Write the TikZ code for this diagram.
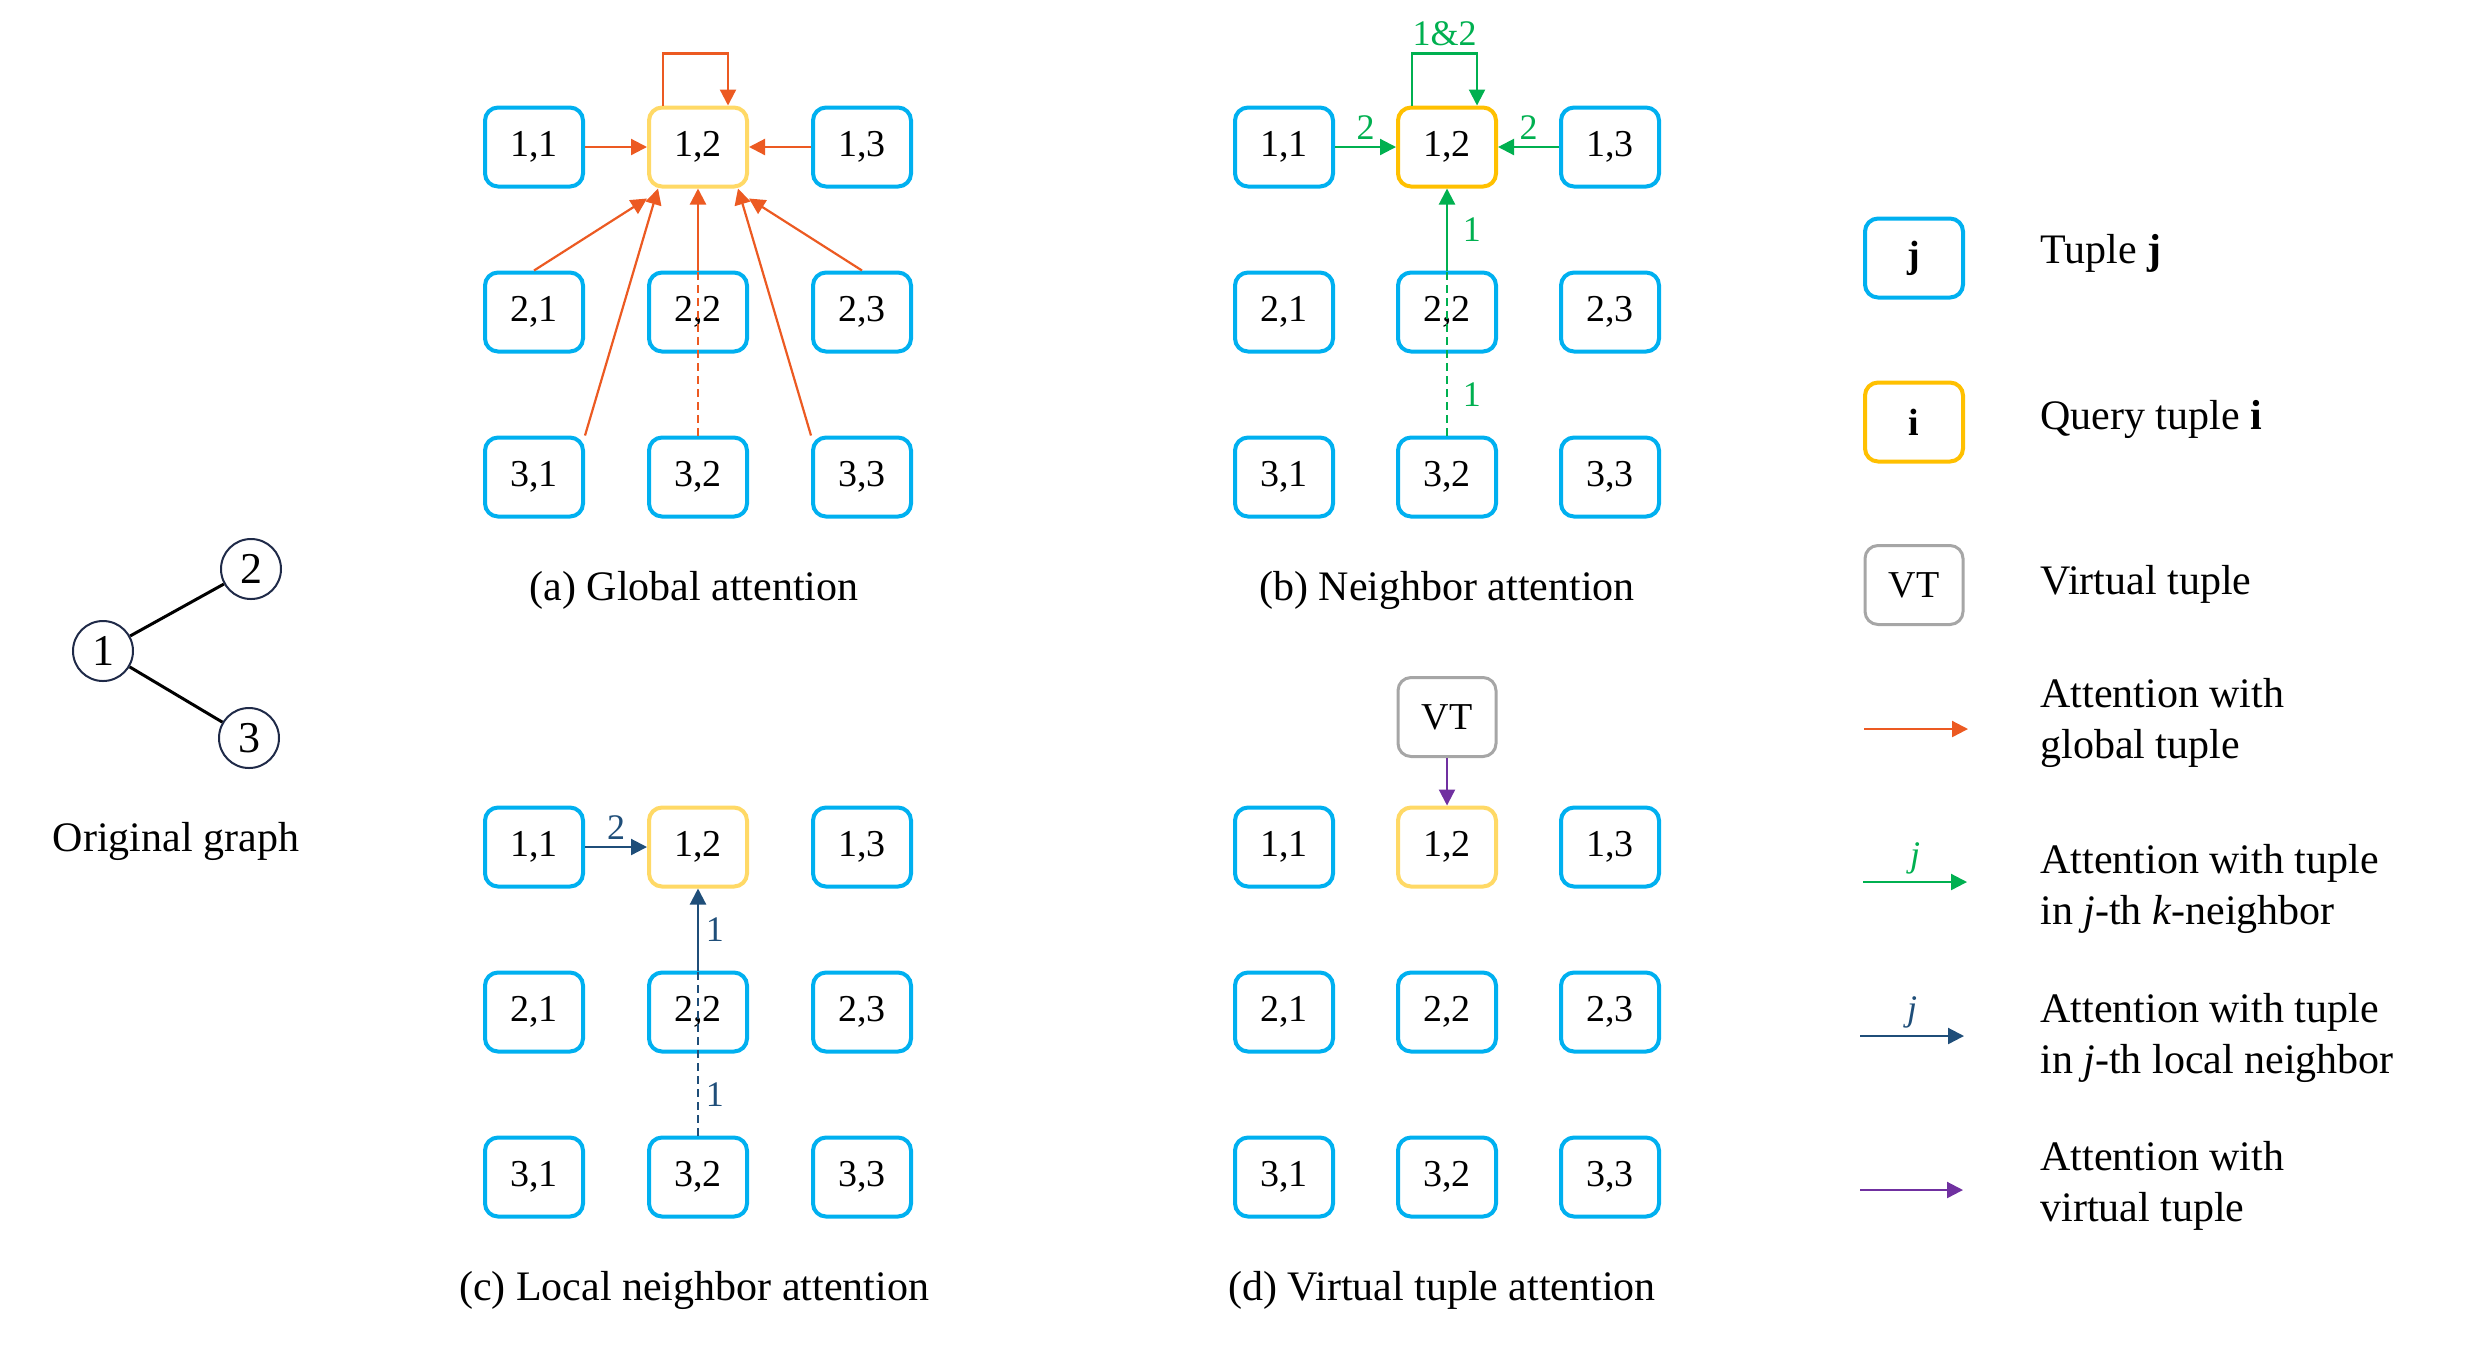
\documentclass[tikz,border=0pt]{standalone}
\usepackage{fontspec}
\setmainfont{Liberation Serif}
\usetikzlibrary{arrows.meta}

\begin{document}
\begin{tikzpicture}[x=0.5pt,y=0.5pt,yscale=-1,xscale=1,
  tuple/.style={draw={rgb, 255:red, 0; green, 176; blue, 240}, line width=2pt, rounded corners=6.5pt, fill=white, minimum width=49pt, minimum height=39.5pt, inner sep=0pt, font=\fontsize{19}{23}\selectfont},
  query/.style={tuple, draw={rgb, 255:red, 255; green, 217; blue, 102}},
  queryb/.style={tuple, draw={rgb, 255:red, 255; green, 192; blue, 0}},
  vtuple/.style={tuple, draw={rgb, 255:red, 166; green, 166; blue, 166}, line width=1.5pt},
  gnode/.style={circle, draw={rgb, 255:red, 31; green, 42; blue, 72}, line width=1pt, minimum size=30pt, inner sep=0pt, font=\fontsize{22}{26}\selectfont},
  tipline/.style={-{Triangle[length=8pt,width=8pt]}, line width=1.1pt},
  garrow/.style={tipline, color={rgb, 255:red, 236; green, 90; blue, 34}},
  narrow/.style={tipline, color={rgb, 255:red, 0; green, 176; blue, 80}},
  larrow/.style={tipline, color={rgb, 255:red, 31; green, 78; blue, 121}},
  varrow/.style={tipline, color={rgb, 255:red, 112; green, 48; blue, 160}},
  dashline/.style={-, line width=1.1pt, dash pattern={on 4pt off 2.5pt}},
  lbl/.style={font=\fontsize{18}{22}\selectfont},
  captext/.style={font=\fontsize{21}{25.5}\selectfont},
  ltext/.style={captext, anchor=west, align=left, inner sep=0pt}]
\useasboundingbox (0,0) rectangle (2466,1346);

%Original graph
\node[gnode] (g1) at (103,651) {1};
\node[gnode] (g2) at (251,569) {2};
\node[gnode] (g3) at (249,738) {3};
\draw[line width=1.5pt] (g1) -- (g2);
\draw[line width=1.5pt] (g1) -- (g3);
\node[captext] (cg) at (176,841) {Original graph};

%(a) Global attention
\node[tuple] (a11) at (534,147) {1,1};
\node[query] (a12) at (698,147) {1,2};
\node[tuple] (a13) at (862,147) {1,3};
\node[tuple] (a21) at (534,312) {2,1};
\node[tuple] (a22) at (698,312) {2,2};
\node[tuple] (a23) at (862,312) {2,3};
\node[tuple] (a31) at (534,477) {3,1};
\node[tuple] (a32) at (698,477) {3,2};
\node[tuple] (a33) at (862,477) {3,3};
\draw[garrow] ([xshift=-17.5pt]a12.north) -- ++(0,-52) -| ([xshift=15pt]a12.north);
\draw[garrow] (a11) -- (a12);
\draw[garrow] (a13) -- (a12);
\draw[garrow] (a21.north) -- ([yshift=5pt]a12.south west);
\draw[garrow] (a23.north) -- ([yshift=5pt]a12.south east);
\draw[garrow] (a31.north east) -- ([xshift=-20pt]a12.south);
\draw[garrow] (a33.north west) -- ([xshift=20pt]a12.south);
\draw[garrow, dashline] (a32.north) -- (a22.north);
\draw[garrow] (a22.north) -- (a12.south);
\node[captext] (ca) at (694,590) {(a) Global attention};

%(b) Neighbor attention
\node[tuple] (b11) at (1284,147) {1,1};
\node[queryb] (b12) at (1447,147) {1,2};
\node[tuple] (b13) at (1610,147) {1,3};
\node[tuple] (b21) at (1284,312) {2,1};
\node[tuple] (b22) at (1447,312) {2,2};
\node[tuple] (b23) at (1610,312) {2,3};
\node[tuple] (b31) at (1284,477) {3,1};
\node[tuple] (b32) at (1447,477) {3,2};
\node[tuple] (b33) at (1610,477) {3,3};
\draw[narrow] ([xshift=-17.5pt]b12.north) -- ++(0,-52) -| node[lbl, pos=0.25, above] (bl0) {1\&2} ([xshift=15pt]b12.north);
\draw[narrow] (b11) -- node[lbl, above] (bl1) {2} (b12);
\draw[narrow] (b13) -- node[lbl, above] (bl2) {2} (b12);
\draw[narrow, dashline] (b32.north) -- (b22.north);
\draw[narrow] (b22.north) -- node[lbl, right, xshift=4pt] (bl3) {1} (b12.south);
\path[narrow] (b32.north) -- node[lbl, right, xshift=4pt] (bl4) {1} (b22.south);
\node[captext] (cb) at (1447,590) {(b) Neighbor attention};

%(c) Local neighbor attention
\node[tuple] (c11) at (534,847) {1,1};
\node[query] (c12) at (698,847) {1,2};
\node[tuple] (c13) at (862,847) {1,3};
\node[tuple] (c21) at (534,1012) {2,1};
\node[tuple] (c22) at (698,1012) {2,2};
\node[tuple] (c23) at (862,1012) {2,3};
\node[tuple] (c31) at (534,1177) {3,1};
\node[tuple] (c32) at (698,1177) {3,2};
\node[tuple] (c33) at (862,1177) {3,3};
\draw[larrow] (c11) -- node[lbl, above] (cl1) {2} (c12);
\draw[larrow, dashline] (c32.north) -- (c22.north);
\draw[larrow] (c22.north) -- node[lbl, right] (cl2) {1} (c12.south);
\path[larrow] (c32.north) -- node[lbl, right] (cl3) {1} (c22.south);
\node[captext] (cc) at (694,1290) {(c) Local neighbor attention};

%(d) Virtual tuple attention
\node[vtuple] (dvt) at (1447,717) {VT};
\node[tuple] (d11) at (1284,847) {1,1};
\node[query] (d12) at (1447,847) {1,2};
\node[tuple] (d13) at (1610,847) {1,3};
\node[tuple] (d21) at (1284,1012) {2,1};
\node[tuple] (d22) at (1447,1012) {2,2};
\node[tuple] (d23) at (1610,1012) {2,3};
\node[tuple] (d31) at (1284,1177) {3,1};
\node[tuple] (d32) at (1447,1177) {3,2};
\node[tuple] (d33) at (1610,1177) {3,3};
\draw[varrow] (dvt) -- (d12);
\node[captext] (cd) at (1442,1290) {(d) Virtual tuple attention};

%Legend
\node[tuple] (lj) at (1914,258) {\textbf{j}};
\node[queryb] (li) at (1914,422) {\textbf{i}};
\node[vtuple] (lvt) at (1914,585) {VT};
\coordinate (lg0) at (1864,729);
\coordinate (lg1) at (1968,729);
\coordinate (ln0) at (1863,882);
\coordinate (ln1) at (1967,882);
\coordinate (ll0) at (1860,1036);
\coordinate (ll1) at (1964,1036);
\coordinate (lv0) at (1860,1190);
\coordinate (lv1) at (1963,1190);
\draw[garrow] (lg0) -- (lg1);
\draw[narrow] (ln0) -- node[lbl, above] (lnj) {\textit{j}} (ln1);
\draw[larrow] (ll0) -- node[lbl, above] (llj) {\textit{j}} (ll1);
\draw[varrow] (lv0) -- (lv1);
\node[ltext] (t1) at (2040,253) {Tuple \textbf{j}};
\node[ltext] (t2) at (2040,419) {Query tuple \textbf{i}};
\node[ltext] (t3) at (2040,584) {Virtual tuple};
\node[ltext] (t4) at (2040,723) {Attention with\\global tuple};
\node[ltext] (t5) at (2040,889) {Attention with tuple\\in \textit{j}-th \textit{k}-neighbor};
\node[ltext] (t6) at (2040,1038) {Attention with tuple\\in \textit{j}-th local neighbor};
\node[ltext] (t7) at (2040,1186) {Attention with\\virtual tuple};

\end{tikzpicture}
\end{document}
